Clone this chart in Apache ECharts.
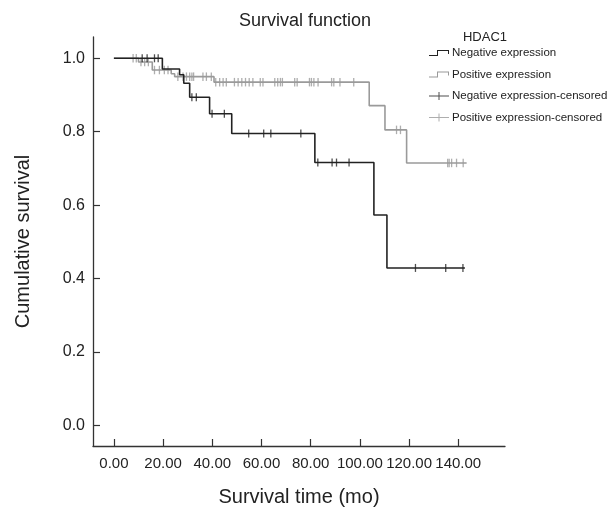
<!DOCTYPE html>
<html>
<head>
<meta charset="utf-8">
<script src="https://cdn.jsdelivr.net/npm/echarts@6/dist/echarts.min.js"></script>
<style>
  html, body { margin: 0; padding: 0; background: #fff; }
  #chart { width: 607px; height: 507px; }
</style>
</head>
<body>
<div id="chart"></div>
<script>
// Kaplan-Meier steps: time (mo) and survival after each event
const negTimes = [0, 19.7, 26.7, 28.4, 30.8, 38.9, 47.9, 81.7, 105.7, 111.0, 142.7];
const negSurv  = [1.0, 0.971, 0.955, 0.932, 0.894, 0.849, 0.795, 0.716, 0.573, 0.429, 0.429];
const posTimes = [0, 10.0, 15.6, 23.3, 24.7, 40.7, 103.8, 110.2, 119.0, 143.4];
const posSurv  = [1.0, 0.99, 0.968, 0.958, 0.950, 0.935, 0.871, 0.805, 0.715, 0.715];

// censored observations (time only, height comes from the curve)
const negCensored = [11.5, 13.5, 16.5, 18.0, 31.7, 33.5, 39.9, 44.9, 54.8, 60.9, 63.8, 76.0,
    82.9, 88.7, 90.5, 95.6, 122.6, 134.9, 141.9];
const posCensored = [7.8, 9.1, 11.0, 12.5, 14.0, 16.5, 18.5, 20.5, 22.0, 26.0, 28.1, 29.5, 30.8,
    31.7, 32.4, 36.2, 37.6, 39.6, 41.4, 43.0, 44.4, 45.7, 49.0, 50.5, 52.0, 53.5, 55.0, 56.5,
    59.5, 60.6, 65.4, 66.6, 67.7, 68.5, 73.5, 74.5, 79.5, 80.3, 81.3, 83.0, 88.5, 89.4, 91.9,
    97.5, 114.9, 116.5, 135.7, 136.3, 137.3, 139.3, 142.0];

const xTicks = [0, 20, 40, 60, 80, 100, 120, 140];
const yTicks = [0, 0.2, 0.4, 0.6, 0.8, 1.0];

const seriesNames = ['Negative expression', 'Positive expression',
    'Negative expression-censored', 'Positive expression-censored'];

const FONT = 'Liberation Sans';
const NEG_COLOR = '#222';
const POS_COLOR = '#9a9a9a';

// value of the step curve at time t
const survAt = (times, surv, t) => {
    let s = surv[0];
    for (let i = 0; i < times.length; i++) {
        if (times[i] <= t) s = surv[i];
    }
    return s;
};

const stepIcon = 'path://M0,5 L8,5 L8,0 L20,0 L20,4 L19,4 L19,1 L9,1 L9,6 L0,6 Z';
const censorIcon = 'path://M0,3.5 L9.5,3.5 L9.5,0 L10.5,0 L10.5,3.5 L20,3.5 L20,4.5 L10.5,4.5 L10.5,8 L9.5,8 L9.5,4.5 L0,4.5 Z';

const chart = echarts.init(document.getElementById('chart'));

const option = {
    animation: false,
    backgroundColor: '#fff',
    textStyle: { fontFamily: FONT },
    title: [
        {
            text: 'Survival function',
            left: 300,
            textAlign: 'center',
            top: 7,
            textStyle: { fontFamily: FONT, fontSize: 18, fontWeight: 'normal', color: '#222' }
        },
        {
            text: 'HDAC1',
            left: 480,
            textAlign: 'center',
            top: 26,
            textStyle: { fontFamily: FONT, fontSize: 13, fontWeight: 'normal', color: '#222' }
        }
    ],
    legend: {
        orient: 'vertical',
        left: 429,
        top: 47,
        itemWidth: 20,
        itemHeight: 8,
        itemGap: 9.5,
        padding: 0,
        itemStyle: { borderWidth: 0 },
        textStyle: { fontFamily: FONT, fontSize: 11.5, color: '#222', padding: [0, 0, 0, -2] },
        data: [
            { name: seriesNames[0], icon: stepIcon },
            { name: seriesNames[1], icon: stepIcon },
            { name: seriesNames[2], icon: censorIcon },
            { name: seriesNames[3], icon: censorIcon }
        ]
    },
    grid: { left: 93, right: 102, top: 37, bottom: 61, outerBoundsMode: 'none', containLabel: false },
    xAxis: {
        type: 'value',
        min: -8.5,
        max: 159,
        name: 'Survival time (mo)',
        nameLocation: 'middle',
        nameGap: 41,
        nameTextStyle: { fontFamily: FONT, fontSize: 20, color: '#222' },
        axisLine: { onZero: false, lineStyle: { color: '#333', width: 1.3 } },
        axisTick: { inside: true, length: 7, customValues: xTicks, lineStyle: { color: '#333', width: 1.2 } },
        axisLabel: {
            customValues: xTicks,
            margin: 10,
            fontSize: 15,
            color: '#222',
            formatter: (v) => v.toFixed(2)
        },
        splitLine: { show: false }
    },
    yAxis: {
        type: 'value',
        min: -0.056,
        max: 1.058,
        name: 'Cumulative survival',
        nameLocation: 'middle',
        nameGap: 60,
        nameTextStyle: { fontFamily: FONT, fontSize: 20, color: '#222' },
        axisLine: { show: true, onZero: false, lineStyle: { color: '#333', width: 1.3 } },
        axisTick: { show: true, inside: true, length: 7, customValues: yTicks, lineStyle: { color: '#333', width: 1.2 } },
        axisLabel: {
            customValues: yTicks,
            margin: 8,
            fontSize: 16,
            color: '#222',
            formatter: (v) => v.toFixed(1)
        },
        splitLine: { show: false }
    },
    series: [
        {
            name: seriesNames[0],
            type: 'line',
            step: 'end',
            color: NEG_COLOR,
            symbol: 'none',
            z: 3,
            lineStyle: { color: NEG_COLOR, width: 1.6 },
            data: negTimes.map((t, i) => [t, negSurv[i]])
        },
        {
            name: seriesNames[1],
            type: 'line',
            step: 'end',
            color: POS_COLOR,
            symbol: 'none',
            z: 2,
            lineStyle: { color: POS_COLOR, width: 1.6 },
            data: posTimes.map((t, i) => [t, posSurv[i]])
        },
        {
            name: seriesNames[2],
            type: 'scatter',
            color: NEG_COLOR,
            symbol: 'rect',
            symbolSize: [1.3, 8],
            z: 4,
            data: negCensored.map(t => [t, survAt(negTimes, negSurv, t)])
        },
        {
            name: seriesNames[3],
            type: 'scatter',
            color: POS_COLOR,
            symbol: 'rect',
            symbolSize: [1.3, 8.5],
            z: 2,
            data: posCensored.map(t => [t, survAt(posTimes, posSurv, t)])
        }
    ]
};

chart.setOption(option);
</script>
</body>
</html>
